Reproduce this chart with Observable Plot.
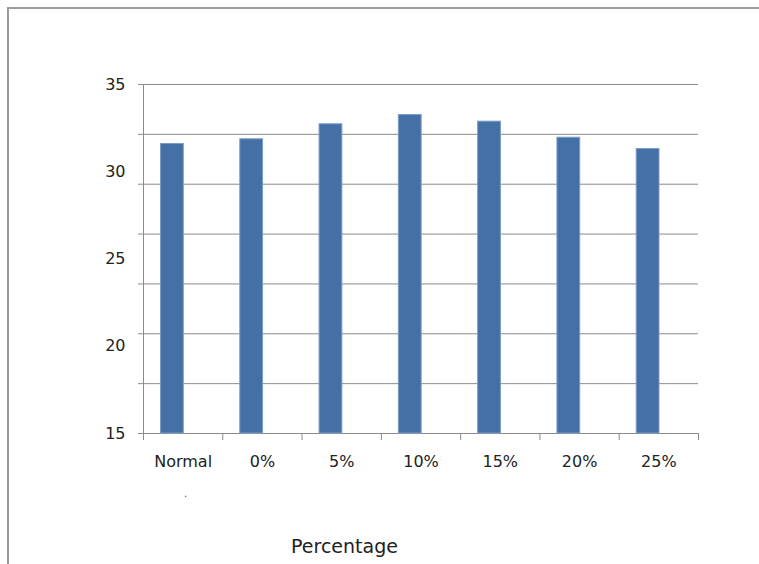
<!DOCTYPE html>
<html>
<head>
<meta charset="utf-8">
<script src="https://cdn.jsdelivr.net/npm/d3@7"></script>
<script src="https://cdn.jsdelivr.net/npm/@observablehq/plot@0.6"></script>
<style>
  html, body { margin: 0; padding: 0; background: #fff; }
  #wrap { position: relative; width: 759px; height: 564px; overflow: hidden; }
  #border { position: absolute; left: 7px; top: 7px; right: -4px; bottom: -4px;
            border-left: 2px solid #9c9c9c; border-top: 2px solid #9c9c9c; pointer-events: none; }
</style>
</head>
<body>
<div id="wrap"><div id="border"></div></div>
<script>
const categories = ["Normal", "0%", "5%", "10%", "15%", "20%", "25%"];
const values = [31.59, 31.86, 32.72, 33.25, 32.87, 31.95, 31.30];
const yLabelTicks = [15, 20, 25, 30, 35];
const gridTicks = [15, 17.857, 20.714, 23.571, 26.429, 29.286, 32.143, 35];
const xBoundaryTicks = [0, 1, 2, 3, 4, 5, 6, 7];
const xTitle = "Percentage";

const data = categories.map((c, i) => ({c, i, v: values[i]}));

const chart = Plot.plot({
  width: 759,
  height: 564,
  marginLeft: 143,
  marginRight: 61,
  marginTop: 84,
  marginBottom: 131,
  style: {background: "transparent", fontFamily: "DejaVu Sans, sans-serif", color: "#222"},
  x: {type: "linear", domain: [0, 7], axis: null, label: null},
  y: {domain: [15, 35], axis: null, label: null},
  marks: [
    Plot.ruleY(gridTicks, {stroke: "#8c8c8c", strokeWidth: 1}),
    Plot.rectY(data, {x1: "i", x2: d => d.i + 1, y1: 15, y2: "v",
      insetLeft: 17.5, insetRight: 39, fill: "#4470a6", stroke: "#7a9cc9", strokeWidth: 1}),
    Plot.ruleX([0], {stroke: "#8c8c8c", strokeWidth: 1}),
    Plot.axisY({ticks: gridTicks, tickSize: 5, tickFormat: () => "", stroke: "#8c8c8c", label: null}),
    Plot.axisX({ticks: xBoundaryTicks, tickSize: 7, tickFormat: () => "", stroke: "#8c8c8c", label: null}),
    Plot.axisY({ticks: yLabelTicks, tickSize: 0, tickPadding: 18, fontSize: 16, fill: "#222", label: null}),
    Plot.text(data, {x: d => d.i + 0.5, text: "c", frameAnchor: "bottom", dy: 28,
      fontSize: 16, fill: "#222", lineAnchor: "middle"}),
    Plot.text([xTitle], {frameAnchor: "bottom-left", dx: 201, dy: 113, fontSize: 19,
      fill: "#222", textAnchor: "middle", lineAnchor: "middle"}),
    Plot.text(["."], {frameAnchor: "bottom-left", dx: 42, dy: 60, fontSize: 10,
      fill: "#444", textAnchor: "middle", lineAnchor: "middle"})
  ]
});
document.getElementById("wrap").prepend(chart);
</script>
</body>
</html>
